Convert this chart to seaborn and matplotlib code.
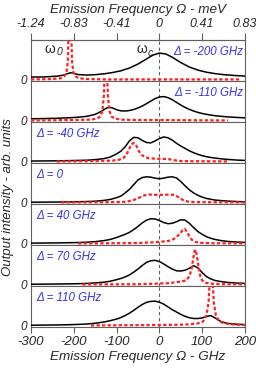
import matplotlib
matplotlib.use('Agg')
import matplotlib.pyplot as plt
import seaborn as sns

# detuning labels, one per panel (top to bottom)
DELTA_LABELS = ['Δ = -200 GHz', 'Δ = -110 GHz', 'Δ = -40 GHz', 'Δ = 0',
                'Δ = 40 GHz', 'Δ = 70 GHz', 'Δ = 110 GHz']
LABEL_SIDE = ['right', 'right', 'left', 'left', 'left', 'left', 'left']

GHZ_TICKS = [-300, -200, -100, 0, 100, 200]
GHZ_LABELS = ['-300', '-200', '-100', '0', '100', '200']
# top axis: same tick marks, labelled in meV (1 meV = 241.8 GHz)
MEV_LABELS = ['-1.24', '-0.83', '-0.41', '0', '0.41', '0.83']

# common frequency grid (GHz) for the black curves of panels 3-7
GRID = [-300, -270, -240, -210, -190, -170, -150, -130, -115, -100, -90, -80,
        -70, -60, -50, -40, -30, -20, -10, 0, 10, 20, 30, 40, 50, 60, 70, 80,
        90, 100, 110, 120, 130, 145, 160, 180, 200]

# black: output intensity (solid)
black1_x = [-300, -270, -240, -225, -215, -211, -207, -203, -198, -190, -170,
            -150, -130, -110, -90, -70, -50, -30, -15, 0, 15, 30, 50, 70, 90,
            110, 130, 150, 175, 200]
black1_y = [0.06, 0.063, 0.081, 0.106, 0.143, 0.16, 0.168, 0.165, 0.147, 0.123,
            0.11, 0.12, 0.141, 0.173, 0.218, 0.288, 0.39, 0.52, 0.617, 0.668,
            0.645, 0.563, 0.427, 0.315, 0.236, 0.183, 0.147, 0.121, 0.10, 0.084]

black2_x = [-300, -270, -240, -210, -190, -170, -150, -135, -125, -118, -110,
            -100, -90, -80, -70, -60, -50, -40, -30, -20, -10, 0, 10, 20, 30,
            40, 50, 60, 70, 80, 90, 100, 110, 120, 130, 145, 160, 180, 200]
black2_y = [0.041, 0.047, 0.054, 0.067, 0.081, 0.103, 0.153, 0.233, 0.305,
            0.333, 0.318, 0.271, 0.243, 0.238, 0.251, 0.277, 0.316, 0.365,
            0.425, 0.491, 0.553, 0.595, 0.605, 0.578, 0.525, 0.458, 0.39, 0.33,
            0.279, 0.238, 0.203, 0.176, 0.154, 0.136, 0.12, 0.103, 0.089,
            0.076, 0.065]

black3_y = [0.01, 0.012, 0.015, 0.02, 0.025, 0.03, 0.045, 0.07, 0.11, 0.19,
            0.26, 0.37, 0.52, 0.61, 0.60, 0.53, 0.48, 0.47, 0.52, 0.58, 0.62,
            0.60, 0.54, 0.46, 0.39, 0.33, 0.27, 0.22, 0.18, 0.145, 0.12, 0.10,
            0.085, 0.065, 0.05, 0.035, 0.025]
black4_y = [0.005, 0.007, 0.01, 0.013, 0.017, 0.022, 0.03, 0.05, 0.075, 0.12,
            0.16, 0.24, 0.33, 0.45, 0.57, 0.63, 0.65, 0.64, 0.615, 0.60, 0.615,
            0.64, 0.65, 0.62, 0.53, 0.42, 0.32, 0.24, 0.18, 0.135, 0.10, 0.08,
            0.06, 0.045, 0.033, 0.022, 0.015]
black5_y = [0.008, 0.01, 0.013, 0.018, 0.022, 0.03, 0.045, 0.07, 0.10, 0.15,
            0.19, 0.23, 0.28, 0.35, 0.43, 0.52, 0.59, 0.625, 0.62, 0.58, 0.53,
            0.50, 0.51, 0.55, 0.60, 0.59, 0.51, 0.40, 0.30, 0.23, 0.17, 0.13,
            0.10, 0.07, 0.05, 0.035, 0.025]
black6_y = [0.005, 0.007, 0.01, 0.014, 0.018, 0.025, 0.038, 0.055, 0.08, 0.12,
            0.15, 0.19, 0.24, 0.31, 0.39, 0.48, 0.56, 0.60, 0.61, 0.58, 0.52,
            0.45, 0.39, 0.345, 0.34, 0.36, 0.41, 0.475, 0.42, 0.30, 0.20, 0.14,
            0.10, 0.07, 0.05, 0.035, 0.025]
black7_y = [0.005, 0.008, 0.012, 0.018, 0.025, 0.035, 0.055, 0.085, 0.12, 0.16,
            0.20, 0.25, 0.31, 0.38, 0.46, 0.53, 0.585, 0.61, 0.615, 0.59, 0.54,
            0.47, 0.40, 0.34, 0.28, 0.23, 0.195, 0.175, 0.175, 0.19, 0.225,
            0.25, 0.19, 0.09, 0.05, 0.03, 0.02]

# red: emitter spectrum (dashed)
red1_x = [-300, -250, -230, -222, -217, -214, -212, -209, -206, -204, -201,
          -196, -188, -170, -120, 190]
red1_y = [0, 0.01, 0.03, 0.08, 0.18, 0.45, 1.2, 3.0, 1.2, 0.45, 0.18, 0.08,
          0.03, 0.01, 0, 0]
red2_x = [-300, -200, -160, -145, -138, -133, -130, -128, -125, -122, -120,
          -117, -112, -105, -90, -50, 160]
red2_y = [0, 0.01, 0.02, 0.05, 0.1, 0.25, 0.6, 1.1, 1.6, 1.1, 0.6, 0.25, 0.1,
          0.05, 0.02, 0.01, 0]
red3_x = [-240, -150, -110, -95, -85, -78, -72, -66, -60, -54, -48, -42, -35,
          -25, -10, 5, 20, 35, 50, 80, 160]
red3_y = [0, 0.01, 0.02, 0.04, 0.08, 0.15, 0.28, 0.42, 0.47, 0.40, 0.26, 0.17,
          0.12, 0.08, 0.07, 0.065, 0.06, 0.03, 0.01, 0.005, 0]
red4_x = [-230, -120, -90, -75, -65, -55, -45, -35, -25, -15, 0, 15, 25, 35,
          45, 55, 65, 80, 120, 200]
red4_y = [0, 0.005, 0.01, 0.02, 0.05, 0.08, 0.13, 0.18, 0.20, 0.195, 0.19,
          0.195, 0.20, 0.19, 0.13, 0.06, 0.025, 0.01, 0.005, 0]
red5_x = [-190, -100, -50, -10, 20, 30, 40, 48, 54, 59, 64, 70, 76, 84, 95,
          120, 200]
red5_y = [0, 0.005, 0.01, 0.03, 0.06, 0.09, 0.16, 0.25, 0.33, 0.37, 0.30, 0.18,
          0.09, 0.04, 0.015, 0.005, 0]
red6_x = [-180, -50, 20, 50, 62, 70, 75, 79, 82, 85, 88, 92, 96, 100, 108, 125,
          160, 200]
red6_y = [0, 0.005, 0.03, 0.07, 0.10, 0.2, 0.38, 0.65, 0.84, 0.88, 0.7, 0.4,
          0.2, 0.1, 0.04, 0.015, 0.005, 0]
red7_x = [-160, 0, 60, 90, 102, 110, 115, 118, 121, 124, 127, 132, 140, 152,
          175, 200]
red7_y = [0, 0.01, 0.02, 0.05, 0.1, 0.25, 0.6, 1.2, 1.8, 1.2, 0.6, 0.25, 0.1,
          0.05, 0.02, 0.01]

black_x = [black1_x, black2_x, GRID, GRID, GRID, GRID, GRID]
black_y = [black1_y, black2_y, black3_y, black4_y, black5_y, black6_y, black7_y]
red_x = [red1_x, red2_x, red3_x, red4_x, red5_x, red6_x, red7_x]
red_y = [red1_y, red2_y, red3_y, red4_y, red5_y, red6_y, red7_y]

sns.set_style('ticks')
plt.rcParams['font.family'] = ['Liberation Sans', 'DejaVu Sans']
plt.rcParams['font.style'] = 'italic'

EDGE = '#606060'
BLUE = '#3333e6'
RED = '#ff2020'
IT = 'italic'

fig, axes = plt.subplots(7, 1, figsize=(2.56, 3.72), dpi=100, sharex=True)
fig.subplots_adjust(left=0.121, right=0.957, top=0.8925, bottom=0.121, hspace=0)

for i, ax in enumerate(axes):
    ax.axvline(0, color='#606060', lw=0.8, ls=(0, (3, 2.5)), zorder=1)
    sns.lineplot(x=black_x[i], y=black_y[i], ax=ax, color='black', lw=1.1,
                 sort=False, estimator=None, zorder=3)
    sns.lineplot(x=red_x[i], y=red_y[i], ax=ax, color=RED, lw=1.6,
                 ls=(0, (1.5, 1.0)), sort=False, estimator=None, zorder=4)
    ax.set_xlim(-300, 200)
    ax.set_ylim(-0.04, 1.0)
    ax.set_yticks([0])
    ax.set_yticklabels(['0'], fontsize=8.5, fontstyle=IT)
    ax.set_ylabel('')
    ax.tick_params(axis='y', length=0, pad=3)
    ax.tick_params(axis='x', bottom=False, top=False, labelbottom=False)
    for sp in ax.spines.values():
        sp.set_color(EDGE)
        sp.set_linewidth(0.8)
    if LABEL_SIDE[i] == 'right':
        ax.text(0.99, 0.70, DELTA_LABELS[i], transform=ax.transAxes,
                ha='right', va='center', color=BLUE, fontsize=8.3, fontstyle=IT)
    else:
        ax.text(0.023, 0.70, DELTA_LABELS[i], transform=ax.transAxes,
                ha='left', va='center', color=BLUE, fontsize=8.3, fontstyle=IT)

# resonance labels in the top panel
axes[0].text(-256, 0.78, 'ω', ha='center', va='center', fontsize=10,
             fontstyle='normal')
axes[0].text(-234, 0.70, '0', ha='center', va='center', fontsize=7.5,
             fontstyle=IT)
axes[0].text(-40, 0.76, 'ω', ha='center', va='center', fontsize=10,
             fontstyle='normal')
axes[0].text(-21, 0.68, 'c', ha='center', va='center', fontsize=7.5,
             fontstyle=IT)

bottom = axes[-1]
bottom.set_xticks(GHZ_TICKS)
bottom.set_xticklabels(GHZ_LABELS, fontstyle=IT)
bottom.tick_params(axis='x', bottom=True, labelbottom=True, direction='out',
                   length=4.5, width=0.8, color=EDGE, labelsize=9.5, pad=2)
bottom.set_xlabel('Emission Frequency Ω - GHz', fontsize=9.7, labelpad=2,
                  fontstyle=IT)

top = axes[0].secondary_xaxis('top')
top.set_xticks(GHZ_TICKS)
top.set_xticklabels(MEV_LABELS, fontstyle=IT)
top.tick_params(axis='x', direction='out', length=5, width=0.8, color=EDGE,
                labelsize=9, pad=2)
top.spines['top'].set_color(EDGE)
top.spines['top'].set_linewidth(0.8)
top.set_xlabel('Emission Frequency Ω - meV', fontsize=9.7, labelpad=4,
               fontstyle=IT)

fig.text(0.03, 0.47, 'Output intensity - arb. units', rotation=90,
         ha='center', va='center', fontsize=9.5, fontstyle=IT)

fig.savefig('out.png', dpi=100)
